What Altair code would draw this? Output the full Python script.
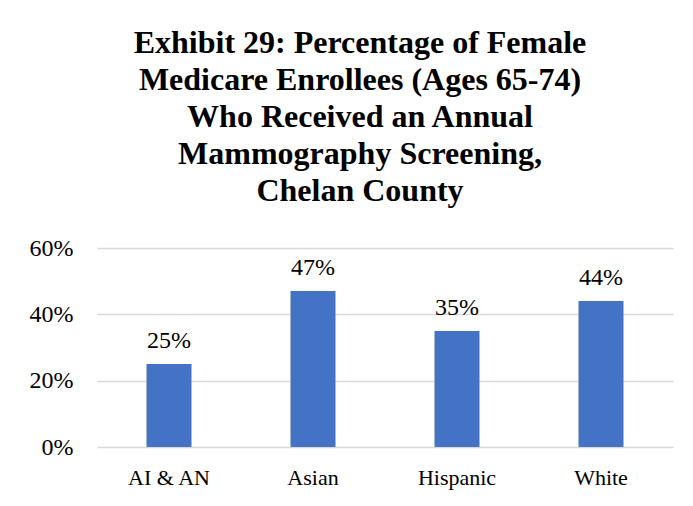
import altair as alt
import pandas as pd

categories = ["AI & AN", "Asian", "Hispanic", "White"]
values = [0.25, 0.47, 0.35, 0.44]
y_ticks = [0, 0.2, 0.4, 0.6]
title_lines = [
    "Exhibit 29: Percentage of Female",
    "Medicare Enrollees (Ages 65-74)",
    "Who Received an Annual",
    "Mammography Screening,",
    "Chelan County",
]

df = pd.DataFrame({"group": categories, "value": values})
FONT = "Liberation Serif"

x = alt.X("group:N", sort=categories, title=None,
          scale=alt.Scale(paddingInner=0, paddingOuter=0),
          axis=alt.Axis(labelAngle=0, domain=False, ticks=False, labelPadding=20,
                        labelFontSize=22, labelFont=FONT, labelColor="#000000"))
y = alt.Y("value:Q", title=None,
          scale=alt.Scale(domain=[0, 0.6], nice=False),
          axis=alt.Axis(values=y_ticks, format=".0%", domain=False, ticks=False,
                        labelPadding=24, labelFontSize=24, labelFont=FONT,
                        labelColor="#000000", gridColor="#d9d9d9", gridWidth=1.5))

bars = alt.Chart(df).mark_bar(size=45, color="#4472C4").encode(x=x, y=y)
labels = alt.Chart(df).mark_text(dy=-16, baseline="alphabetic", fontSize=24,
                                 font=FONT, color="#000000").encode(
    x=alt.X("group:N", sort=categories),
    y="value:Q",
    text=alt.Text("value:Q", format=".0%"),
)

chart = (bars + labels).properties(
    width=576, height=199,
    title=alt.TitleParams(title_lines, font=FONT, fontSize=32, fontWeight="bold",
                          color="#000000", lineHeight=37, anchor="middle",
                          dx=-25, offset=28),
    autosize=alt.AutoSizeParams(type="none"),
    padding={"left": 89, "top": 240, "right": 12, "bottom": 51},
).configure_view(stroke=None)

chart.save("out.html", embed_options={"renderer": "svg", "actions": False})
